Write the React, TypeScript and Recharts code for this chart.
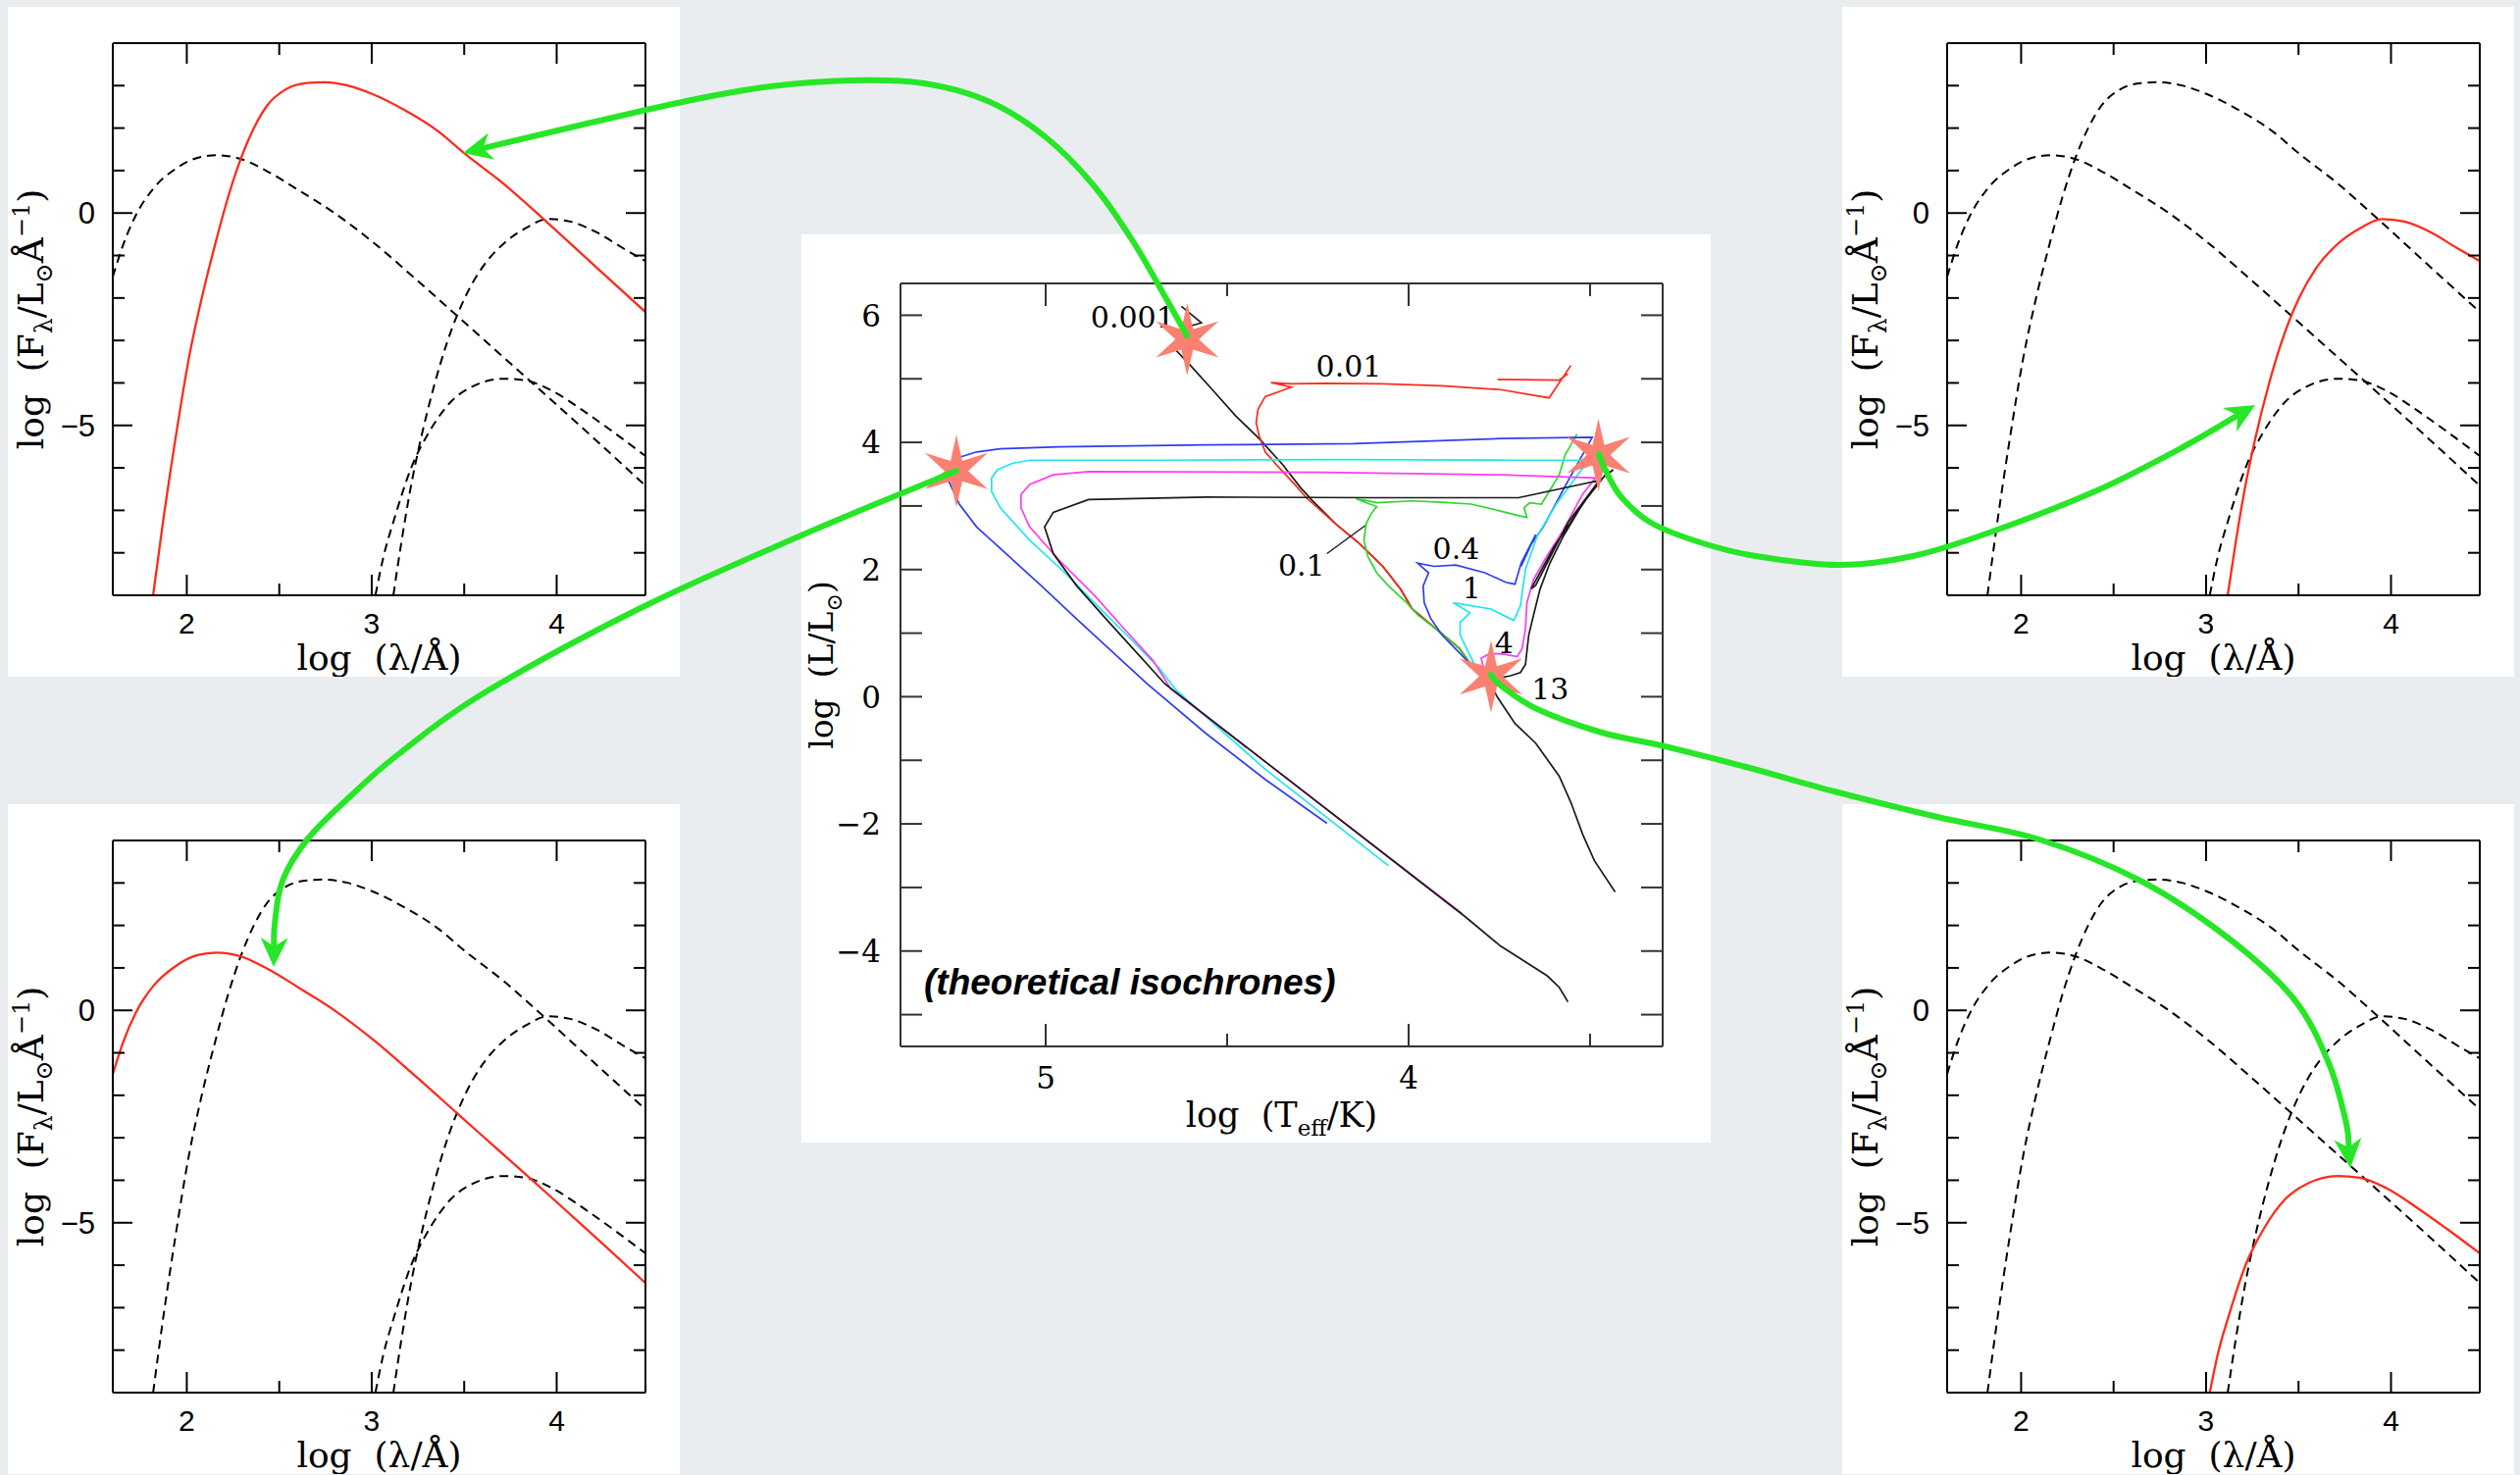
import { ComposedChart, Line, Scatter, XAxis, YAxis } from 'recharts';

const PAGE_W = 2569;
const PAGE_H = 1504;
const PAGE_BG = '#eaedf0';
const SERIF = '"DejaVu Serif", "Liberation Serif", serif';
const SANS = '"Liberation Sans", Arial, sans-serif';

// ---------- SED panels: log F_lambda vs log lambda ----------
const LAM_TICKS = [2, 2.5, 3, 3.5, 4];
const LAM_LABELS = [2, 3, 4];
const FLUX_TICKS = [3, 2, 1, 0, -1, -2, -3, -4, -5, -6, -7, -8];
const FLUX_LABELS = [0, -5];

// four blackbody-like spectra
const SED_A: number[][] = [
  [1.818, -9.0], [1.868, -7.38], [1.939, -5.31], [2.01, -3.45], [2.081, -2.0], [2.152, -0.76],
  [2.223, 0.37], [2.294, 1.3], [2.365, 2.02], [2.436, 2.54], [2.531, 2.9], [2.65, 3.06],
  [2.745, 3.08], [2.863, 3.01], [3.005, 2.8], [3.171, 2.44], [3.361, 1.92], [3.503, 1.4],
  [3.716, 0.68], [3.929, -0.14], [4.19, -1.18], [4.48, -2.33],
];
const SED_B: number[][] = [
  [1.6, -1.5], [1.655, -0.76], [1.726, -0.04], [1.82, 0.58], [1.939, 1.04], [2.057, 1.3],
  [2.16, 1.36], [2.294, 1.27], [2.436, 0.98], [2.6, 0.55], [2.792, 0.02], [3.005, -0.68],
  [3.242, -1.57], [3.479, -2.49], [3.716, -3.41], [3.953, -4.33], [4.19, -5.26], [4.48, -6.42],
];
const SED_C: number[][] = [
  [3.117, -9.0], [3.159, -7.79], [3.207, -6.55], [3.266, -5.31], [3.337, -4.07], [3.408, -3.04],
  [3.503, -2.0], [3.598, -1.28], [3.716, -0.71], [3.835, -0.35], [3.953, -0.14], [4.072, -0.2],
  [4.214, -0.45], [4.356, -0.82], [4.48, -1.13],
];
const SED_D: number[][] = [
  [3.02, -9.0], [3.062, -8.12], [3.122, -7.2], [3.216, -5.97], [3.311, -5.15], [3.429, -4.44],
  [3.547, -4.08], [3.713, -3.9], [3.831, -3.94], [3.973, -4.18], [4.139, -4.64], [4.304, -5.15],
  [4.48, -5.72],
];
const SEDS = [SED_A, SED_B, SED_C, SED_D];

// ---------- HR diagram: theoretical isochrones ----------
const TEFF_TICKS = [5, 4.5, 4, 3.5];
const TEFF_LABELS = [5, 4];
const LUM_TICKS = [6, 5, 4, 3, 2, 1, 0, -1, -2, -3, -4, -5];
const LUM_LABELS = [6, 4, 2, 0, -2, -4];

const ISO_0001: number[][] = [
  [4.626, 6.14], [4.571, 5.88], [4.603, 5.83], [4.622, 5.65], [4.639, 5.44], [4.598, 5.19],
  [4.541, 4.83], [4.477, 4.42], [4.412, 4.06], [4.347, 3.65], [4.298, 3.29], [4.266, 3.09],
  [4.201, 2.72], [4.136, 2.41], [4.071, 2.05], [4.022, 1.69], [3.99, 1.38], [3.925, 1.07],
  [3.86, 0.76], [3.828, 0.5], [3.795, 0.35],
];
const ISO_001: (number | null)[][] = [
  [3.553, 5.21], [3.613, 4.7], [3.747, 4.83], [3.909, 4.89], [4.071, 4.92], [4.233, 4.93],
  [4.323, 4.92], [4.379, 4.94], [4.323, 4.87], [4.395, 4.72], [4.415, 4.52], [4.42, 4.31],
  [4.412, 4.11], [4.395, 3.85], [4.363, 3.64], [4.314, 3.34], [4.282, 3.13], [4.201, 2.72],
  [4.136, 2.41], [4.071, 2.05], [4.022, 1.69], [3.99, 1.38], [3.925, 1.07], [3.86, 0.76],
  [3.828, 0.5], [3.795, 0.35], [3.755, null], [3.755, 4.99], [3.585, 4.98], [3.561, 5.08],
];
const ISO_01: number[][] = [
  [3.536, 4.13], [3.569, 3.8], [3.585, 3.49], [3.618, 3.18], [3.634, 3.03], [3.666, 3.05],
  [3.682, 2.97], [3.674, 2.82], [3.699, 2.85], [3.747, 2.92], [3.828, 3.03], [3.909, 3.06],
  [3.99, 3.08], [4.088, 3.05], [4.12, 3.09], [4.144, 3.11], [4.112, 3.04], [4.088, 2.99],
  [4.104, 2.87], [4.117, 2.72], [4.123, 2.46], [4.112, 2.2], [4.088, 1.95], [4.055, 1.74],
  [4.006, 1.48], [3.974, 1.28], [3.925, 1.07], [3.861, 0.76], [3.828, 0.5], [3.795, 0.35],
];
const ISO_04: number[][] = [
  [3.8, 0.3], [3.818, 0.45], [3.836, 0.55], [3.872, 0.76], [3.908, 0.97], [3.939, 1.23],
  [3.957, 1.48], [3.96, 1.74], [3.945, 1.95], [3.975, 2.1], [3.93, 2.05], [3.87, 2.07],
  [3.79, 1.95], [3.732, 1.8], [3.707, 1.77], [3.69, 2.1], [3.65, 2.55], [3.69, 2.05],
  [3.668, 2.35], [3.629, 2.67], [3.566, 3.34], [3.494, 4.08], [3.747, 4.06], [4.152, 3.98],
  [4.558, 3.96], [4.963, 3.93], [5.125, 3.9], [5.19, 3.85], [5.246, 3.75], [5.274, 3.62],
  [5.267, 3.39], [5.238, 3.03], [5.19, 2.67], [5.109, 2.25], [5.011, 1.74], [4.914, 1.22],
  [4.817, 0.71], [4.72, 0.2], [4.558, -0.58], [4.395, -1.3], [4.225, -1.99],
];
const ISO_1: number[][] = [
  [3.8, 0.3], [3.818, 0.5], [3.836, 0.71], [3.858, 0.97], [3.858, 1.17], [3.831, 1.32],
  [3.877, 1.48], [3.827, 1.43], [3.773, 1.38], [3.728, 1.25], [3.71, 1.2], [3.692, 1.43],
  [3.678, 2.0], [3.647, 2.51], [3.593, 3.03], [3.521, 3.59], [3.485, 3.72], [3.7, 3.72],
  [4.2, 3.73], [4.7, 3.72], [5.044, 3.72], [5.092, 3.67], [5.133, 3.57], [5.149, 3.44],
  [5.149, 3.23], [5.125, 2.97], [5.044, 2.46], [4.947, 1.95], [4.849, 1.38], [4.768, 0.92],
  [4.687, 0.45], [4.64, 0.1], [4.395, -1.14], [4.055, -2.66],
];
const ISO_4: number[][] = [
  [3.79, 0.35], [3.8, 0.61], [3.782, 0.66], [3.755, 0.68], [3.728, 0.66], [3.701, 0.63],
  [3.687, 0.76], [3.678, 1.07], [3.674, 1.48], [3.656, 1.84], [3.62, 2.2], [3.575, 2.61],
  [3.521, 3.18], [3.485, 3.44], [3.747, 3.49], [4.233, 3.53], [4.882, 3.54], [4.979, 3.49],
  [5.044, 3.34], [5.068, 3.18], [5.068, 2.97], [5.044, 2.67], [4.963, 2.15], [4.865, 1.59],
  [4.784, 1.07], [4.703, 0.56], [4.655, 0.12], [3.853, -3.41],
];
const ISO_13: number[][] = [
  [3.431, -3.07], [3.488, -2.58], [3.52, -2.17], [3.553, -1.66], [3.585, -1.25], [3.65, -0.73],
  [3.707, -0.42], [3.755, -0.01], [3.77, 0.15], [3.78, 0.27], [3.755, 0.29], [3.719, 0.33],
  [3.692, 0.38], [3.678, 0.51], [3.669, 0.97], [3.656, 1.28], [3.638, 1.69], [3.611, 2.1],
  [3.575, 2.51], [3.521, 3.03], [3.458, 3.49], [3.436, 3.57], [3.475, 3.4], [3.56, 2.75],
  [3.65, 1.75], [3.662, 1.7], [3.6, 2.35], [3.476, 3.4], [3.697, 3.13], [4.097, 3.13],
  [4.558, 3.14], [4.882, 3.1], [4.979, 2.9], [5.003, 2.67], [4.979, 2.25], [4.914, 1.74],
  [4.833, 1.22], [4.752, 0.71], [4.671, 0.2], [3.844, -3.46], [3.747, -3.92], [3.618, -4.39],
  [3.585, -4.57], [3.561, -4.8],
];
const LEADER_01: number[][] = [[4.225, 2.25], [4.12, 2.69]];

const ISOCHRONES = [
  { pts: ISO_0001, color: '#1a1a1a' },
  { pts: ISO_001, color: '#ff2a1a' },
  { pts: ISO_01, color: '#2fd82f' },
  { pts: ISO_04, color: '#2f3df0' },
  { pts: ISO_1, color: '#1fe6f0' },
  { pts: ISO_4, color: '#ff3cf0' },
  { pts: ISO_13, color: '#1a1a1a' },
  { pts: LEADER_01, color: '#1a1a1a' },
];

const AGE_LABELS = [
  { x: 4.76, y: 5.97, t: '0.001' },
  { x: 4.165, y: 5.2, t: '0.01' },
  { x: 4.295, y: 2.07, t: '0.1' },
  { x: 3.869, y: 2.33, t: '0.4' },
  { x: 3.826, y: 1.71, t: '1' },
  { x: 3.737, y: 0.85, t: '4' },
  { x: 3.61, y: 0.13, t: '13' },
];
const STARS = [
  { x: 4.61, y: 5.62 },
  { x: 5.246, y: 3.55 },
  { x: 3.477, y: 3.8 },
  { x: 3.773, y: 0.32 },
];
const NOTE = [{ x: 5.335, y: -4.675, t: '(theoretical isochrones)' }];

// ---------- layout ----------
const SED_W = 685;
const SED_H = 683;
const SED_PLOT = { left: 107, top: 37, width: 543, height: 563 };
const SED_PANELS = [
  { left: 8, top: 7, hot: 0 },
  { left: 1878, top: 7, hot: 2 },
  { left: 8, top: 820, hot: 1 },
  { left: 1878, top: 820, hot: 3 },
];
const CEN = { left: 817, top: 239, width: 927, height: 926 };
const CEN_PLOT = { left: 101, top: 50, width: 777, height: 778 };

// green connector arrows (page pixels)
const ARROWS: number[][][] = [
  [[1210, 342], [1188, 303], [1155, 246], [1114, 188], [1065, 139], [1007, 103], [942, 85], [868, 82], [786, 88], [700, 103], [590, 128], [472, 156]],
  [[1630, 463], [1637, 480], [1653, 507], [1683, 533], [1733, 553], [1790, 567], [1875, 576], [1950, 567], [2031, 542], [2138, 500], [2227, 455], [2299, 413]],
  [[975, 480], [819, 545], [655, 619], [491, 708], [405, 770], [357, 812], [314, 855], [288, 898], [280, 943], [279, 986]],
  [[1520, 688], [1530, 699], [1567, 723], [1633, 747], [1693, 760], [1780, 782], [1870, 807], [1975, 833], [2079, 856], [2182, 898], [2271, 956], [2338, 1018], [2374, 1084], [2392, 1146], [2396, 1191]],
];

const toPts = (a: (number | null)[][]) => a.map(([x, y]) => ({ x, y }));
const near = (list: number[], v: number) => list.some((m) => Math.abs(m - v) < 1e-6);
const fmt = (v: number) => (v < 0 ? '\u2212' + Math.abs(v) : String(v));

type Side = 'bottom' | 'top' | 'left' | 'right';
interface TickOpts {
  side: Side;
  majors: number[];
  labels?: number[];
  majorLen: number;
  minorLen: number;
  gap: number;
  font: string;
  size: number;
  color: string;
}

// inward ticks, drawn by hand since recharts only draws outward ones
function makeTick(o: TickOpts) {
  return (p: any) => {
    const v = Number(p.payload?.value);
    const x = Number(p.x);
    const y = Number(p.y);
    const len = near(o.majors, v) ? o.majorLen : o.minorLen;
    const show = o.labels ? near(o.labels, v) : false;
    let line;
    let label = null;
    const tp = { fontFamily: o.font, fontSize: o.size, fill: '#000', stroke: 'none' };
    if (o.side === 'bottom') {
      line = <line x1={x} y1={y} x2={x} y2={y - len} />;
      if (show) label = <text x={x} y={y + o.gap} textAnchor="middle" {...tp}>{fmt(v)}</text>;
    } else if (o.side === 'top') {
      line = <line x1={x} y1={y} x2={x} y2={y + len} />;
    } else if (o.side === 'left') {
      line = <line x1={x} y1={y} x2={x + len} y2={y} />;
      if (show) label = <text x={x - o.gap} y={y} dy="0.36em" textAnchor="end" {...tp}>{fmt(v)}</text>;
    } else {
      line = <line x1={x} y1={y} x2={x - len} y2={y} />;
    }
    return (
      <g>
        <g stroke={o.color} strokeWidth={2}>{line}</g>
        {label}
      </g>
    );
  };
}

function SedPanel({ left, top, hot }: { left: number; top: number; hot: number }) {
  const order = [0, 1, 2, 3].filter((i) => i !== hot).concat(hot);
  const axisLine = { stroke: '#000', strokeWidth: 2 };
  const xDom: [number, number] = [1.6, 4.48];
  const yDom: [number, number] = [-9, 4];
  const xt = { majors: LAM_LABELS, majorLen: 21, minorLen: 12, gap: 39, font: SANS, size: 30, color: '#000' };
  const yt = { majors: FLUX_LABELS, majorLen: 20, minorLen: 12, gap: 18, font: SANS, size: 31, color: '#000' };
  const cx = SED_PLOT.left + SED_PLOT.width / 2;
  const cy = SED_PLOT.top + SED_PLOT.height / 2;
  const ty = 36;
  return (
    <div style={{ position: 'absolute', left, top, width: SED_W, height: SED_H, background: '#fff' }}>
      <ComposedChart width={SED_W} height={SED_H} margin={{ top: 36, right: 34, bottom: 33, left: 47 }}>
        <XAxis
          xAxisId="b" type="number" dataKey="x" domain={xDom} allowDataOverflow ticks={LAM_TICKS} interval={0}
          tickLine={false} tickSize={0} tickMargin={0} height={50} axisLine={axisLine}
          tick={makeTick({ side: 'bottom', labels: LAM_LABELS, ...xt })}
          label={() => (
            <text x={cx} y={SED_PLOT.top + SED_PLOT.height + 76} textAnchor="middle" fontFamily={SERIF} fontSize={36} fill="#000" style={{ whiteSpace: 'pre' }}>
              {'log  (\u03bb/\u00c5)'}
            </text>
          )}
        />
        <XAxis
          xAxisId="t" orientation="top" type="number" dataKey="x" domain={xDom} allowDataOverflow ticks={LAM_TICKS} interval={0}
          tickLine={false} tickSize={0} tickMargin={0} height={1} axisLine={axisLine}
          tick={makeTick({ side: 'top', ...xt })}
        />
        <YAxis
          yAxisId="l" type="number" dataKey="y" domain={yDom} allowDataOverflow ticks={FLUX_TICKS} interval={0}
          tickLine={false} tickSize={0} tickMargin={0} width={60} axisLine={axisLine}
          tick={makeTick({ side: 'left', labels: FLUX_LABELS, ...yt })}
          label={() => (
            <text x={ty} y={cy} transform={`rotate(-90 ${ty} ${cy})`} textAnchor="middle" fontFamily={SERIF} fontSize={36} fill="#000" style={{ whiteSpace: 'pre' }}>
              {'log  (F'}
              <tspan dy={9} fontSize={25}>{'\u03bb'}</tspan>
              <tspan dy={-9}>{'/L'}</tspan>
              <tspan dy={9} fontSize={24}>{'\u2299'}</tspan>
              <tspan dy={-9}>{'\u00c5'}</tspan>
              <tspan dy={-14} fontSize={24}>{'\u22121'}</tspan>
              <tspan dy={14}>{')'}</tspan>
            </text>
          )}
        />
        <YAxis
          yAxisId="r" orientation="right" type="number" dataKey="y" domain={yDom} allowDataOverflow ticks={FLUX_TICKS} interval={0}
          tickLine={false} tickSize={0} tickMargin={0} width={1} axisLine={axisLine}
          tick={makeTick({ side: 'right', ...yt })}
        />
        {order.map((i) => (
          <Line
            key={i}
            xAxisId="b"
            yAxisId="l"
            data={toPts(SEDS[i])}
            dataKey="y"
            type="monotone"
            stroke={i === hot ? '#ff2a1a' : '#000'}
            strokeWidth={i === hot ? 2.3 : 2}
            strokeDasharray={i === hot ? undefined : '9 6'}
            dot={false}
            activeDot={false}
            isAnimationActive={false}
          />
        ))}
      </ComposedChart>
    </div>
  );
}

function starPath(cx: number, cy: number, R: number, r: number) {
  let d = '';
  for (let i = 0; i < 12; i++) {
    const a = -Math.PI / 2 + (i * Math.PI) / 6;
    const rad = i % 2 === 0 ? R : r;
    d += (i ? 'L' : 'M') + (cx + rad * Math.cos(a)).toFixed(1) + ' ' + (cy + rad * Math.sin(a)).toFixed(1);
  }
  return d + 'Z';
}

function HrPanel() {
  const axisLine = { stroke: '#333', strokeWidth: 2 };
  const xDom: [number, number] = [3.3, 5.4];
  const yDom: [number, number] = [-5.5, 6.5];
  const xt = { majors: TEFF_LABELS, majorLen: 23, minorLen: 13, gap: 43, font: SERIF, size: 31, color: '#333' };
  const yt = { majors: LUM_TICKS, majorLen: 22, minorLen: 22, gap: 20, font: SERIF, size: 31, color: '#333' };
  const cx = CEN_PLOT.left + CEN_PLOT.width / 2;
  const cy = CEN_PLOT.top + CEN_PLOT.height / 2;
  const ty = 32;
  return (
    <div style={{ position: 'absolute', left: CEN.left, top: CEN.top, width: CEN.width, height: CEN.height, background: '#fff' }}>
      <ComposedChart width={CEN.width} height={CEN.height} margin={{ top: 49, right: 48, bottom: 48, left: 41 }}>
        <XAxis
          xAxisId="b" type="number" dataKey="x" domain={xDom} reversed allowDataOverflow ticks={TEFF_TICKS} interval={0}
          tickLine={false} tickSize={0} tickMargin={0} height={50} axisLine={axisLine}
          tick={makeTick({ side: 'bottom', labels: TEFF_LABELS, ...xt })}
          label={() => (
            <text x={cx} y={CEN_PLOT.top + CEN_PLOT.height + 82} textAnchor="middle" fontFamily={SERIF} fontSize={35} fill="#000" style={{ whiteSpace: 'pre' }}>
              {'log  (T'}
              <tspan dy={9} fontSize={23}>eff</tspan>
              <tspan dy={-9}>{'/K)'}</tspan>
            </text>
          )}
        />
        <XAxis
          xAxisId="t" orientation="top" type="number" dataKey="x" domain={xDom} reversed allowDataOverflow ticks={TEFF_TICKS} interval={0}
          tickLine={false} tickSize={0} tickMargin={0} height={1} axisLine={axisLine}
          tick={makeTick({ side: 'top', ...xt })}
        />
        <YAxis
          yAxisId="l" type="number" dataKey="y" domain={yDom} allowDataOverflow ticks={LUM_TICKS} interval={0}
          tickLine={false} tickSize={0} tickMargin={0} width={60} axisLine={axisLine}
          tick={makeTick({ side: 'left', labels: LUM_LABELS, ...yt })}
          label={() => (
            <text x={ty} y={cy} transform={`rotate(-90 ${ty} ${cy})`} textAnchor="middle" fontFamily={SERIF} fontSize={33} fill="#000" style={{ whiteSpace: 'pre' }}>
              {'log  (L/L'}
              <tspan dy={9} fontSize={22}>{'\u2299'}</tspan>
              <tspan dy={-9}>{')'}</tspan>
            </text>
          )}
        />
        <YAxis
          yAxisId="r" orientation="right" type="number" dataKey="y" domain={yDom} allowDataOverflow ticks={LUM_TICKS} interval={0}
          tickLine={false} tickSize={0} tickMargin={0} width={1} axisLine={axisLine}
          tick={makeTick({ side: 'right', ...yt })}
        />
        {ISOCHRONES.map((iso, i) => (
          <Line
            key={i}
            xAxisId="b"
            yAxisId="l"
            data={toPts(iso.pts)}
            dataKey="y"
            type="linear"
            stroke={iso.color}
            strokeWidth={i === 7 ? 1.4 : 1.7}
            dot={false}
            activeDot={false}
            connectNulls={false}
            isAnimationActive={false}
          />
        ))}
        <Scatter
          xAxisId="b"
          yAxisId="l"
          data={AGE_LABELS}
          dataKey="y"
          isAnimationActive={false}
          shape={(p: any) => (
            <text x={p.cx} y={p.cy} dy="0.36em" textAnchor="middle" fontFamily={SERIF} fontSize={30} fill="#000">
              {p.payload.t}
            </text>
          )}
        />
        <Scatter
          xAxisId="b"
          yAxisId="l"
          data={NOTE}
          dataKey="y"
          isAnimationActive={false}
          shape={(p: any) => (
            <text x={p.cx} y={p.cy} textAnchor="start" fontFamily={SANS} fontSize={37} fontWeight="bold" fontStyle="italic" fill="#000">
              {p.payload.t}
            </text>
          )}
        />
        <Scatter
          xAxisId="b"
          yAxisId="l"
          data={STARS}
          dataKey="y"
          isAnimationActive={false}
          shape={(p: any) => <path d={starPath(p.cx, p.cy, 37, 12)} fill="#fa8072" />}
        />
      </ComposedChart>
    </div>
  );
}

function smoothPath(pts: number[][]) {
  let d = `M${pts[0][0]},${pts[0][1]}`;
  for (let i = 0; i < pts.length - 1; i++) {
    const p0 = pts[i - 1] || pts[i];
    const p1 = pts[i];
    const p2 = pts[i + 1];
    const p3 = pts[i + 2] || p2;
    const c1x = p1[0] + (p2[0] - p0[0]) / 6;
    const c1y = p1[1] + (p2[1] - p0[1]) / 6;
    const c2x = p2[0] - (p3[0] - p1[0]) / 6;
    const c2y = p2[1] - (p3[1] - p1[1]) / 6;
    d += ` C${c1x.toFixed(1)},${c1y.toFixed(1)} ${c2x.toFixed(1)},${c2y.toFixed(1)} ${p2[0]},${p2[1]}`;
  }
  return d;
}

function Arrow({ pts }: { pts: number[][] }) {
  const tip = pts[pts.length - 1];
  const prev = pts[pts.length - 2];
  const dx = tip[0] - prev[0];
  const dy = tip[1] - prev[1];
  const n = Math.hypot(dx, dy) || 1;
  const ux = dx / n;
  const uy = dy / n;
  const L = 30;
  const W = 14;
  const base = [tip[0] - ux * L * 0.6, tip[1] - uy * L * 0.6];
  const line = pts.slice(0, -1).concat([base]);
  const head = [
    [tip[0], tip[1]],
    [tip[0] - ux * L - uy * W, tip[1] - uy * L + ux * W],
    [tip[0] - ux * L * 0.7, tip[1] - uy * L * 0.7],
    [tip[0] - ux * L + uy * W, tip[1] - uy * L - ux * W],
  ];
  return (
    <g>
      <path d={smoothPath(line)} fill="none" stroke="#27e627" strokeWidth={6} strokeLinecap="round" />
      <path d={'M' + head.map((h) => h[0].toFixed(1) + ',' + h[1].toFixed(1)).join(' L') + 'Z'} fill="#27e627" />
    </g>
  );
}

export default function App() {
  return (
    <div style={{ position: 'absolute', left: 0, top: 0, width: PAGE_W, height: PAGE_H, background: PAGE_BG, overflow: 'hidden' }}>
      {SED_PANELS.map((p, i) => (
        <SedPanel key={i} left={p.left} top={p.top} hot={p.hot} />
      ))}
      <HrPanel />
      <svg width={PAGE_W} height={PAGE_H} style={{ position: 'absolute', left: 0, top: 0, pointerEvents: 'none' }}>
        {ARROWS.map((a, i) => (
          <Arrow key={i} pts={a} />
        ))}
      </svg>
    </div>
  );
}
